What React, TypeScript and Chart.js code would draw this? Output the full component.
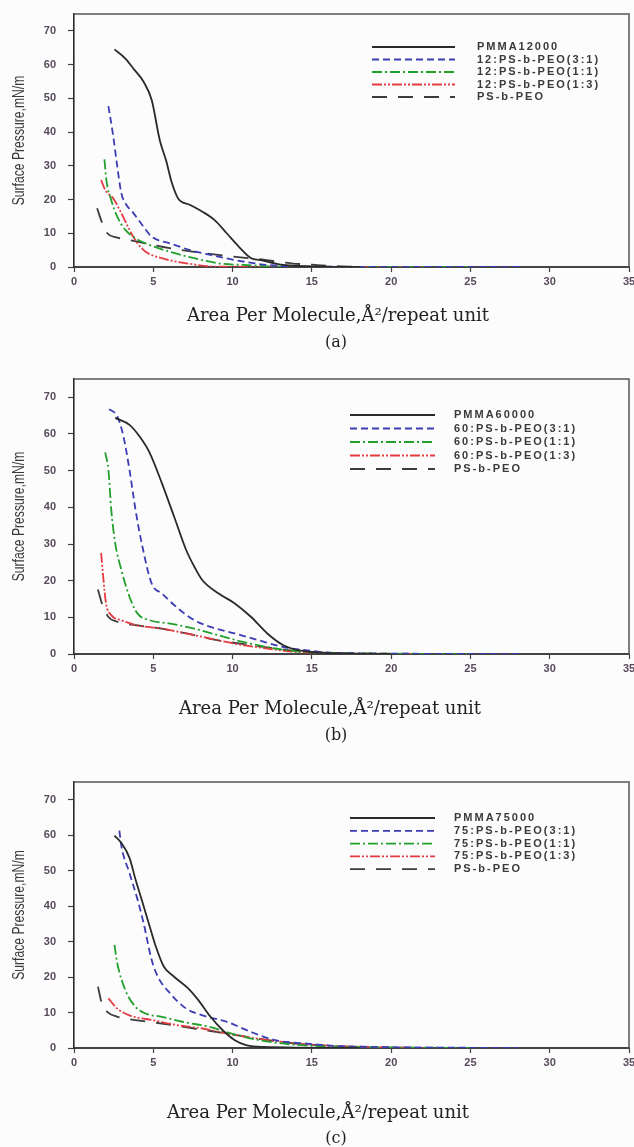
import React, { useEffect, useRef } from "react";
import { Chart, registerables } from "chart.js";

Chart.register(...registerables);

// ---------- axis ticks ----------
const xTicks = [0, 5, 10, 15, 20, 25, 30, 35];
const yTicks = [0, 10, 20, 30, 40, 50, 60, 70];

// ---------- legend labels ----------
const labelsA = ["PMMA12000", "12:PS-b-PEO(3:1)", "12:PS-b-PEO(1:1)", "12:PS-b-PEO(1:3)", "PS-b-PEO"];
const labelsB = ["PMMA60000", "60:PS-b-PEO(3:1)", "60:PS-b-PEO(1:1)", "60:PS-b-PEO(1:3)", "PS-b-PEO"];
const labelsC = ["PMMA75000", "75:PS-b-PEO(3:1)", "75:PS-b-PEO(1:1)", "75:PS-b-PEO(1:3)", "PS-b-PEO"];

// ---------- panel (a) data: [area, pressure] ----------
const aPMMA = [[2.55, 64.5], [3.24, 61.8], [3.8, 58.5], [4.39, 54.9], [4.9, 49.5], [5.41, 37.6], [5.8, 31.7], [6.18, 24.8], [6.57, 20.3], [7.33, 18.4], [8.1, 16.4], [8.87, 13.9], [9.63, 10.0], [10.4, 6.0], [11.17, 2.6], [11.7, 2.1], [13.2, 0.6], [15.8, 0.1], [18, 0]];
const a31 = [[2.17, 47.7], [2.48, 38.6], [2.73, 29.7], [2.99, 21.8], [3.24, 18.9], [3.76, 15.9], [4.39, 11.9], [4.9, 9.0], [6.06, 7.0], [7.33, 5.0], [8.6, 3.6], [10.1, 2.1], [12.2, 0.6], [14.7, 0.1], [28.3, 0]];
const a11 = [[1.92, 31.9], [2.04, 25.8], [2.35, 19.8], [2.73, 14.9], [3.24, 11.0], [3.88, 8.5], [4.78, 6.5], [6.06, 4.5], [7.59, 2.6], [9.12, 1.1], [10.65, 0.6], [13.2, 0.1], [25, 0]];
const a13 = [[1.71, 25.8], [1.97, 22.8], [2.48, 20.3], [2.99, 15.9], [3.5, 11.0], [4.01, 7.0], [4.52, 4.5], [5.54, 2.6], [7.08, 1.1], [9.12, 0.1], [22.4, 0]];
const aPSPEO = [[1.46, 17.4], [1.71, 13.9], [2.1, 10.0], [2.68, 8.8], [4.0, 7.5], [5.54, 6.0], [7.59, 4.5], [9.63, 3.3], [11.68, 2.3], [13.7, 1.1], [15.25, 0.6], [17.3, 0.1], [18.5, 0]];

// ---------- panel (b) data ----------
const bPMMA = [[2.6, 64.4], [3.5, 62.5], [4.14, 59.3], [4.78, 54.8], [5.54, 46.6], [6.31, 37.5], [7.08, 28.3], [7.59, 23.8], [8.1, 20.1], [9.12, 16.5], [10.14, 13.8], [11.17, 10.1], [12.19, 5.6], [13.2, 2.4], [14.23, 1.0], [15.76, 0.3], [20, 0]];
const b31 = [[2.22, 66.8], [2.73, 64.8], [3.12, 59.3], [3.5, 50.2], [3.88, 39.3], [4.27, 30.2], [4.9, 19.2], [5.54, 16.5], [6.57, 12.4], [7.59, 9.2], [8.6, 7.4], [10.14, 5.6], [11.68, 3.7], [13.2, 1.9], [14.74, 1.0], [16.27, 0.3], [28, 0]];
const b11 = [[1.97, 55.0], [2.17, 50.2], [2.35, 39.3], [2.6, 30.2], [2.99, 22.9], [3.5, 15.6], [4.01, 11.0], [4.78, 9.2], [6.06, 8.3], [7.59, 6.9], [9.12, 5.1], [10.65, 3.3], [12.7, 1.5], [14.74, 0.5], [25, 0]];
const b13 = [[1.71, 27.6], [1.84, 21.1], [2.02, 13.8], [2.35, 10.6], [2.99, 9.2], [4.01, 7.8], [5.54, 6.9], [7.08, 5.6], [8.6, 4.2], [10.14, 2.8], [12.19, 1.5], [14.23, 0.5], [22, 0]];
const bPSPEO = [[1.51, 17.6], [1.76, 13.8], [2.17, 10.1], [2.73, 8.8], [4.01, 7.8], [5.54, 6.9], [7.08, 5.6], [9.12, 3.7], [11.17, 2.4], [13.2, 1.2], [15.25, 0.5], [18, 0]];

// ---------- panel (c) data ----------
const cPMMA = [[2.55, 59.9], [2.99, 57.8], [3.5, 53.6], [3.88, 47.5], [4.27, 41.8], [4.78, 34.2], [5.16, 28.6], [5.67, 22.9], [6.31, 20.1], [7.2, 16.8], [7.84, 13.5], [8.61, 8.8], [9.38, 5.0], [10.14, 2.2], [10.9, 0.75], [11.93, 0.3], [18, 0]];
const c31 = [[2.86, 61.3], [2.99, 56.9], [3.5, 49.3], [4.01, 41.8], [4.39, 35.2], [4.9, 24.8], [5.29, 20.1], [6.06, 15.4], [7.08, 11.1], [8.1, 9.2], [9.63, 7.4], [11.17, 4.5], [12.7, 2.2], [14.74, 1.2], [16.79, 0.5], [28, 0]];
const c11 = [[2.55, 29.1], [2.73, 23.9], [3.24, 16.3], [3.88, 11.6], [4.52, 9.7], [5.54, 8.8], [6.82, 7.4], [8.61, 5.9], [9.89, 4.1], [11.68, 2.2], [13.72, 1.0], [15.76, 0.5], [25, 0]];
const c13 = [[2.17, 14.0], [2.73, 11.1], [3.5, 9.2], [5.03, 7.8], [6.57, 6.4], [8.1, 5.5], [9.63, 4.1], [11.17, 2.9], [13.2, 1.7], [15.25, 0.85], [22, 0]];
const cPSPEO = [[1.51, 17.3], [1.76, 12.5], [2.1, 10.2], [2.73, 8.8], [4.01, 7.8], [5.54, 6.9], [7.59, 5.5], [9.63, 4.1], [11.68, 2.6], [13.72, 1.4], [15.76, 0.66], [18, 0]];

// ---------- styles ----------
const seriesColors = ["#2a2a2a", "#3c3cb4", "#22a02c", "#e43c40", "#3c3c3c"];
const seriesDashes = [[], [7, 4], [10, 3, 2, 3], [10, 2, 2, 2, 2, 2], [15, 11]];
const seriesWidths = [1.8, 1.8, 1.8, 1.8, 1.8];

const X_TITLE = "Area Per Molecule,\u00C5\u00B2/repeat unit";
const Y_TITLE = "Surface Pressure,mN/m";

type Panel = {
  key: string;
  top: number;
  height: number;
  padTop: number;
  xAxisH: number;
  labels: string[];
  series: number[][][];
  legendTop: number;
  legendGap: number;
  lineX0: number;
  lineX1: number;
  textX: number;
  xTitleX: number;
  xTitleDy: number;
  tag: string;
  tagDy: number;
};

const panels: Panel[] = [
  { key: "a", top: 0, height: 355, padTop: 14, xAxisH: 88, labels: labelsA, series: [aPMMA, a31, a11, a13, aPSPEO], legendTop: 33, legendGap: 12.5, lineX0: 372, lineX1: 455, textX: 477, xTitleX: 338, xTitleDy: 49, tag: "(a)", tagDy: 76 },
  { key: "b", top: 365, height: 385, padTop: 14, xAxisH: 96, labels: labelsB, series: [bPMMA, b31, b11, b13, bPSPEO], legendTop: 36, legendGap: 13.5, lineX0: 350, lineX1: 435, textX: 454, xTitleX: 330, xTitleDy: 55, tag: "(b)", tagDy: 82 },
  { key: "c", top: 760, height: 387, padTop: 22, xAxisH: 99, labels: labelsC, series: [cPMMA, c31, c11, c13, cPSPEO], legendTop: 36, legendGap: 12.8, lineX0: 350, lineX1: 435, textX: 454, xTitleX: 318, xTitleDy: 65, tag: "(c)", tagDy: 91 },
];

const decor = {
  id: "decor",
  afterDatasetsDraw(chart: any, _args: any, opts: any) {
    const { ctx, chartArea: ca } = chart;
    ctx.save();
    // top and right frame
    ctx.setLineDash([]);
    ctx.strokeStyle = "#555555";
    ctx.lineWidth = 1.5;
    ctx.beginPath();
    ctx.moveTo(ca.left, ca.top);
    ctx.lineTo(ca.right, ca.top);
    ctx.lineTo(ca.right, ca.bottom);
    ctx.stroke();

    // legend
    chart.data.datasets.forEach((ds: any, i: number) => {
      const y = ca.top + opts.legendTop + i * opts.legendGap;
      ctx.strokeStyle = ds.borderColor;
      ctx.lineWidth = ds.borderWidth;
      ctx.setLineDash(ds.borderDash || []);
      ctx.beginPath();
      ctx.moveTo(opts.lineX0, y);
      ctx.lineTo(opts.lineX1, y);
      ctx.stroke();
      ctx.setLineDash([]);
      ctx.font = "bold 11px 'Liberation Sans', Arial, sans-serif";
      (ctx as any).letterSpacing = "2px";
      ctx.fillStyle = "#3a3a3a";
      ctx.textAlign = "left";
      ctx.textBaseline = "middle";
      ctx.fillText(ds.label, opts.textX, y);
      (ctx as any).letterSpacing = "0px";
    });

    // y title (condensed sans)
    ctx.save();
    ctx.translate(20, (ca.top + ca.bottom) / 2);
    ctx.rotate(-Math.PI / 2);
    ctx.scale(0.76, 1);
    ctx.font = "16px 'Liberation Sans', Arial, sans-serif";
    ctx.fillStyle = "#3a3a3a";
    ctx.textAlign = "center";
    ctx.textBaseline = "middle";
    ctx.fillText(Y_TITLE, 0, 0);
    ctx.restore();

    // x title
    ctx.font = "18px 'DejaVu Serif', serif";
    ctx.fillStyle = "#222222";
    ctx.textAlign = "center";
    ctx.textBaseline = "middle";
    ctx.fillText(X_TITLE, opts.xTitleX, ca.bottom + opts.xTitleDy);

    // panel tag
    ctx.font = "16px 'DejaVu Serif', serif";
    ctx.fillText(opts.tag, 336, ca.bottom + opts.tagDy);
    ctx.restore();
  },
};

function PanelChart({ p }: { p: Panel }) {
  const ref = useRef<HTMLCanvasElement | null>(null);
  useEffect(() => {
    if (!ref.current) return;
    const datasets = p.series.map((s, i) => ({
      label: p.labels[i],
      data: s.map(([x, y]) => ({ x, y })),
      borderColor: seriesColors[i],
      backgroundColor: seriesColors[i],
      borderWidth: seriesWidths[i],
      borderDash: seriesDashes[i],
      pointRadius: 0,
      fill: false,
      cubicInterpolationMode: "monotone" as const,
    }));
    const tickFont = { family: "'Liberation Sans', Arial, sans-serif", size: 11, weight: "bold" as const };
    const chart = new Chart(ref.current, {
      type: "line",
      data: { datasets },
      plugins: [decor],
      options: {
        animation: false,
        responsive: false,
        layout: { padding: { top: p.padTop, left: 0, right: 5, bottom: 0 } },
        plugins: {
          legend: { display: false },
          tooltip: { enabled: false },
          decor: {
            legendTop: p.legendTop,
            legendGap: p.legendGap,
            lineX0: p.lineX0,
            lineX1: p.lineX1,
            textX: p.textX,
            xTitleX: p.xTitleX,
            xTitleDy: p.xTitleDy,
            tag: p.tag,
            tagDy: p.tagDy,
          },
        } as any,
        scales: {
          x: {
            type: "linear",
            min: 0,
            max: 35,
            afterBuildTicks: (s: any) => {
              s.ticks = xTicks.map((v) => ({ value: v }));
            },
            afterFit: (s: any) => {
              s.height = p.xAxisH;
              s.paddingLeft = 0;
              s.paddingRight = 0;
            },
            grid: { display: true, drawOnChartArea: false, drawTicks: true, tickLength: 5, tickColor: "#444444", tickWidth: 1.2 },
            border: { display: true, color: "#444444", width: 2 },
            ticks: { font: tickFont, color: "#574a5a", padding: 3, maxRotation: 0, autoSkip: false },
          },
          y: {
            type: "linear",
            min: 0,
            max: 75,
            afterBuildTicks: (s: any) => {
              s.ticks = yTicks.map((v) => ({ value: v }));
            },
            afterFit: (s: any) => {
              s.width = 74;
              s.paddingTop = 0;
              s.paddingBottom = 0;
            },
            grid: { display: true, drawOnChartArea: false, drawTicks: true, tickLength: 6, tickColor: "#444444", tickWidth: 1.2 },
            border: { display: true, color: "#2a2a2a", width: 1.6 },
            ticks: { font: tickFont, color: "#574a5a", padding: 12, autoSkip: false },
          },
        },
      } as any,
    });
    return () => chart.destroy();
  }, [p]);
  return (
    <div style={{ position: "absolute", left: 0, top: p.top, width: 634, height: p.height }}>
      <canvas ref={ref} width={634} height={p.height} style={{ width: 634, height: p.height, display: "block" }} />
    </div>
  );
}

export default function App() {
  return (
    <div style={{ position: "absolute", left: 0, top: 0, width: 634, height: 1147, background: "#fcfcfd", overflow: "hidden" }}>
      {panels.map((p) => (
        <PanelChart key={p.key} p={p} />
      ))}
    </div>
  );
}
